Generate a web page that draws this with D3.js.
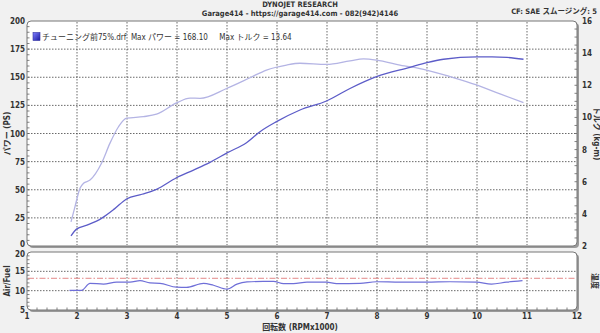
<!DOCTYPE html>
<html>
<head>
<meta charset="utf-8">
<script src="https://cdn.jsdelivr.net/npm/d3@7"></script>
<style>
  html, body { margin: 0; padding: 0; background: #f1f1f1; }
  svg text { font-family: "Liberation Sans Narrow", "DejaVu Sans Condensed", "Noto Sans CJK JP", sans-serif; font-weight: bold; fill: #333; }
</style>
</head>
<body>
<div id="chart"></div>
<script>
// power (PS)
const powerRpm = [1.88, 1.99, 2.2, 2.49, 2.75, 2.99, 3.3, 3.59, 3.99, 4.33, 4.66, 5.01, 5.39, 5.66, 5.99, 6.46, 6.99, 7.46, 7.99, 8.66, 9.0, 9.33, 10.0, 10.3, 10.6, 10.93];
const powerPs  = [9, 15, 18.5, 24.6, 33, 41.8, 46, 50.4, 60.7, 67.5, 74.4, 83, 91.8, 101.6, 110.5, 120.9, 128.9, 140, 150.5, 158.8, 163, 166, 168.1, 168.1, 167.6, 166];

// torque (kg-m)
const torqueRpm = [1.88, 1.96, 2.06, 2.13, 2.26, 2.49, 2.66, 2.83, 2.99, 3.33, 3.59, 3.99, 4.26, 4.46, 4.99, 5.46, 5.79, 6.19, 6.46, 6.99, 7.46, 7.73, 7.99, 8.46, 8.99, 9.46, 9.99, 10.46, 10.93];
const torqueKgm = [3.5, 4.45, 5.6, 5.9, 6.1, 7.15, 8.4, 9.42, 9.95, 10.05, 10.2, 10.9, 11.2, 11.19, 11.8, 12.47, 12.95, 13.26, 13.37, 13.3, 13.52, 13.64, 13.57, 13.26, 12.95, 12.54, 12.02, 11.46, 10.92];

// air/fuel ratio
const afRpm = [1.85, 2.09, 2.26, 2.53, 2.79, 3.06, 3.26, 3.46, 3.66, 3.99, 4.19, 4.53, 4.73, 5.0, 5.2, 5.4, 5.73, 5.93, 6.13, 6.33, 6.6, 6.99, 7.19, 7.66, 7.99, 8.46, 8.99, 9.46, 9.99, 10.29, 10.59, 10.91];
const afRatio = [10.1, 10.1, 11.9, 11.7, 12.2, 12.2, 12.6, 12.0, 11.9, 10.9, 10.85, 11.9, 11.4, 10.4, 11.7, 12.25, 12.4, 12.4, 11.8, 11.8, 12.2, 12.2, 11.8, 11.9, 12.3, 12.2, 12.2, 12.3, 12.2, 11.7, 12.2, 12.6];
const afTarget = 13.2;

const rpmTicks = [1, 2, 3, 4, 5, 6, 7, 8, 9, 10, 11, 12];
const psTicks = [0, 25, 50, 75, 100, 125, 150, 175, 200];
const kgmTicks = [2, 4, 6, 8, 10, 12, 14, 16];
const afTicks = [5, 10, 15, 20];

const width = 600, height = 333;
const svg = d3.select('#chart').append('svg')
  .attr('width', width).attr('height', height);

const x = d3.scaleLinear().domain([1, 12]).range([27, 577]);
const yP = d3.scaleLinear().domain([0, 200]).range([246, 21]);
const yT = d3.scaleLinear().domain([2, 16]).range([246, 21]);
const yA = d3.scaleLinear().domain([5, 20]).range([310, 252]);

// panel with grey 3d-ish border
const panel = (y0, y1) => {
  svg.append('rect').attr('x', x(1) + 2).attr('y', y0 + 2)
    .attr('width', x(12) - x(1)).attr('height', y1 - y0)
    .attr('rx', 4).attr('fill', '#9a9a9a');
  svg.append('rect').attr('x', x(1)).attr('y', y0)
    .attr('width', x(12) - x(1)).attr('height', y1 - y0)
    .attr('rx', 4).attr('fill', '#fff').attr('stroke', '#777').attr('stroke-width', 1);
};
panel(yP(200), yP(0));
panel(yA(20), yA(5));

const grid = svg.append('g')
  .attr('stroke', '#444').attr('stroke-width', 0.8).attr('stroke-dasharray', '1.5,1.5');

// main grid
grid.selectAll('.vm').data(rpmTicks.slice(1, -1)).enter().append('line')
  .attr('x1', d => x(d)).attr('x2', d => x(d)).attr('y1', yP(200) + 1).attr('y2', yP(0) - 1);
grid.selectAll('.hm').data(psTicks.slice(1, -1)).enter().append('line')
  .attr('x1', x(1) + 1).attr('x2', x(12) - 1).attr('y1', d => yP(d)).attr('y2', d => yP(d));

// a/f grid
grid.selectAll('.va').data(rpmTicks.slice(1, -1)).enter().append('line')
  .attr('x1', d => x(d)).attr('x2', d => x(d)).attr('y1', yA(20) + 1).attr('y2', yA(5) - 1);
grid.selectAll('.ha').data([10, 15]).enter().append('line')
  .attr('x1', x(1) + 1).attr('x2', x(12) - 1).attr('y1', d => yA(d)).attr('y2', d => yA(d));

// minor ticks along frames
const minor = svg.append('g').attr('stroke', '#666').attr('stroke-width', 0.8);
minor.selectAll('.tl').data(d3.range(5, 200, 5)).enter().append('line')
  .attr('x1', x(1)).attr('x2', x(1) + 2.5).attr('y1', d => yP(d)).attr('y2', d => yP(d));
minor.selectAll('.tr').data(d3.range(2.5, 16, 0.5)).enter().append('line')
  .attr('x1', x(12) - 2.5).attr('x2', x(12)).attr('y1', d => yT(d)).attr('y2', d => yT(d));
minor.selectAll('.tb').data(d3.range(1.2, 12, 0.2)).enter().append('line')
  .attr('x1', d => x(d)).attr('x2', d => x(d)).attr('y1', yA(5) - 2.5).attr('y2', yA(5));
minor.selectAll('.tal').data(d3.range(6, 20, 1)).enter().append('line')
  .attr('x1', x(1)).attr('x2', x(1) + 2.5).attr('y1', d => yA(d)).attr('y2', d => yA(d));

// curves
const line = (xs, ys, ysc) => d3.line()
  .x((d, i) => x(xs[i])).y(d => ysc(d)).curve(d3.curveMonotoneX)(ys);

svg.append('path').attr('d', line(torqueRpm, torqueKgm, yT))
  .attr('fill', 'none').attr('stroke', '#b4b4e4').attr('stroke-width', 1.3);
svg.append('path').attr('d', line(powerRpm, powerPs, yP))
  .attr('fill', 'none').attr('stroke', '#5c5cc8').attr('stroke-width', 1.3);

svg.append('line').attr('x1', x(1) + 1).attr('x2', x(12) - 1)
  .attr('y1', yA(afTarget)).attr('y2', yA(afTarget))
  .attr('stroke', '#e07a7a').attr('stroke-width', 0.9).attr('stroke-dasharray', '6,2,1.5,2');
svg.append('path').attr('d', line(afRpm, afRatio, yA))
  .attr('fill', 'none').attr('stroke', '#6f6fd8').attr('stroke-width', 1.2);

// tick labels
const label = (sel, data, fx, fy, anchor) => sel.selectAll(null).data(data).enter().append('text')
  .attr('x', fx).attr('y', fy).attr('text-anchor', anchor)
  .attr('font-size', 8).text(d => d);

const labels = svg.append('g');
label(labels, psTicks, 25, d => yP(d) + (d === 0 ? 1 : 3), 'end');
label(labels, kgmTicks, 582, d => yT(d) + 3, 'start');
label(labels, afTicks, 25, d => yA(d) + (d === 20 ? 5 : 3), 'end');
label(labels, rpmTicks, d => x(d), 319, 'middle');

// axis titles
svg.append('text').attr('transform', `translate(10,${yP(100)}) rotate(-90)`)
  .attr('text-anchor', 'middle').attr('font-size', 8).text('パワー (PS)');
svg.append('text').attr('transform', `translate(594,${yT(9)}) rotate(90)`)
  .attr('text-anchor', 'middle').attr('font-size', 8).text('トルク (kg-m)');
svg.append('text').attr('transform', `translate(10,${yA(12.5)}) rotate(-90)`)
  .attr('text-anchor', 'middle').attr('font-size', 8).text('Air/Fuel');
svg.append('text').attr('transform', `translate(592,${yA(12.5)}) rotate(90)`)
  .attr('text-anchor', 'middle').attr('font-size', 8).text('温度');
svg.append('text').attr('x', 300).attr('y', 330)
  .attr('text-anchor', 'middle').attr('font-size', 8).text('回転数 (RPMx1000)');

// header
svg.append('text').attr('x', 300).attr('y', 7)
  .attr('text-anchor', 'middle').attr('font-size', 7.5).text('DYNOJET  RESEARCH');
svg.append('text').attr('x', 300).attr('y', 15.5)
  .attr('text-anchor', 'middle').attr('font-size', 7.5)
  .text('Garage414 - https://garage414.com - 082(942)4146');
svg.append('text').attr('x', 597).attr('y', 14)
  .attr('text-anchor', 'end').attr('font-size', 7.5).text('CF: SAE   スムージング: 5');

// legend
const grad = svg.append('defs').append('linearGradient').attr('id', 'lg')
  .attr('x1', 0).attr('y1', 0).attr('x2', 1).attr('y2', 1);
grad.append('stop').attr('offset', 0).attr('stop-color', '#8080ff');
grad.append('stop').attr('offset', 1).attr('stop-color', '#1a1aa0');
svg.append('rect').attr('x', 33).attr('y', 32.5).attr('width', 7).attr('height', 8)
  .attr('fill', 'url(#lg)').attr('stroke', '#3030a0').attr('stroke-width', 0.6);
svg.append('text').attr('x', 42).attr('y', 40).attr('font-size', 8)
  .style('font-weight', 'normal').attr('xml:space', 'preserve')
  .text('チューニング前75%.drf  Max パワー = 168.10     Max トルク = 13.64');
</script>
</body>
</html>
